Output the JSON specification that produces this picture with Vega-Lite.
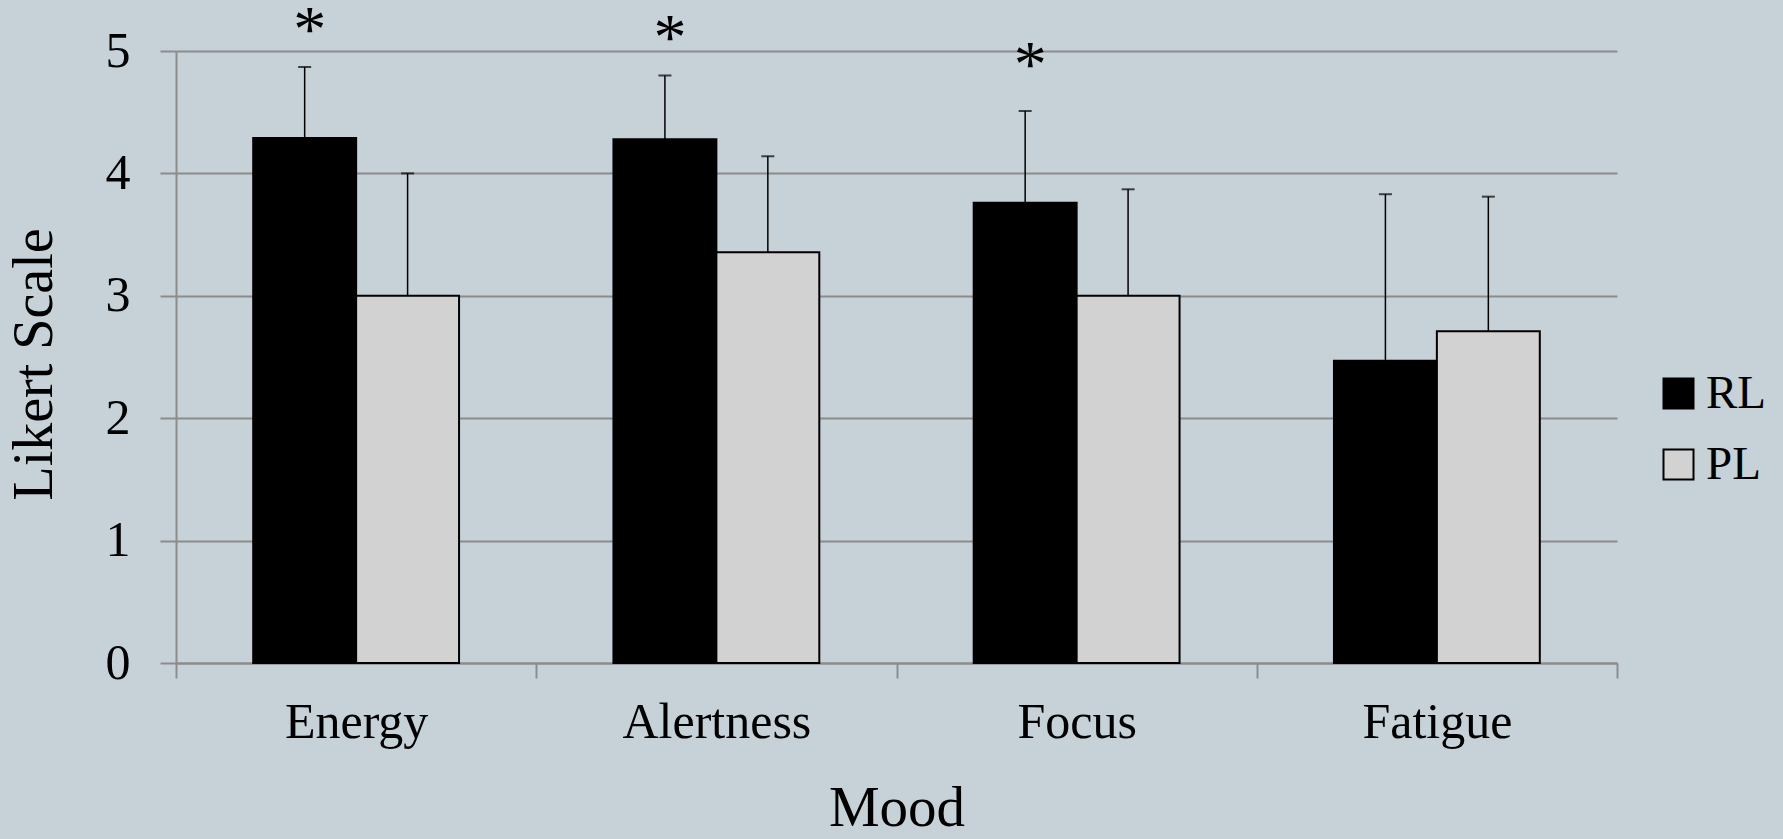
{
  "$schema": "https://vega.github.io/schema/vega-lite/v6.json",
  "width": 1441,
  "height": 612,
  "autosize": "none",
  "padding": {"left": 176, "top": 51, "right": 166, "bottom": 176},
  "background": "#c6d1d8",
  "config": {"view": {"stroke": null}, "font": "Liberation Serif"},
  "datasets": {
    "bars": [
      {"mood": "Energy", "group": "RL", "mean": 4.29, "err": 4.87},
      {"mood": "Energy", "group": "PL", "mean": 3.0, "err": 4.0},
      {"mood": "Alertness", "group": "RL", "mean": 4.28, "err": 4.8},
      {"mood": "Alertness", "group": "PL", "mean": 3.355, "err": 4.14},
      {"mood": "Focus", "group": "RL", "mean": 3.76, "err": 4.51},
      {"mood": "Focus", "group": "PL", "mean": 3.0, "err": 3.87},
      {"mood": "Fatigue", "group": "RL", "mean": 2.47, "err": 3.83},
      {"mood": "Fatigue", "group": "PL", "mean": 2.71, "err": 3.81}
    ],
    "stars": [
      {"mood": "Energy", "group": "RL", "star": 5.165},
      {"mood": "Alertness", "group": "RL", "star": 5.1},
      {"mood": "Focus", "group": "RL", "star": 4.88}
    ]
  },
  "encoding": {
    "x": {
      "field": "mood", "type": "nominal",
      "sort": ["Energy", "Alertness", "Focus", "Fatigue"],
      "scale": {"paddingInner": 0, "paddingOuter": 0},
      "title": "Mood",
      "axis": {
        "tickBand": "extent", "tickSize": 15, "tickColor": "#8c8c8c", "tickWidth": 2,
        "domainColor": "#8c8c8c", "domainWidth": 2,
        "labelAngle": 0, "labelFontSize": 50, "labelColor": "#000000", "labelBaseline": "middle", "labelPadding": 44, "labelLimit": 0,
        "titleFontSize": 57, "titleFontWeight": "normal", "titleColor": "#000000", "titleBaseline": "alphabetic", "titleY": 162
      }
    },
    "xOffset": {
      "field": "group", "type": "nominal", "sort": ["RL", "PL"],
      "scale": {"paddingInner": 0, "paddingOuter": 0.75}
    }
  },
  "layer": [
    {
      "data": {"name": "bars"},
      "mark": {"type": "bar", "stroke": "#000000", "strokeWidth": 2},
      "encoding": {
        "y": {
          "field": "mean", "type": "quantitative",
          "scale": {"domain": [0, 5]},
          "title": "Likert Scale",
          "axis": {
            "values": [0, 1, 2, 3, 4, 5], "format": "d",
            "grid": true, "gridColor": "#8c8c8c", "gridWidth": 2,
            "domainColor": "#8c8c8c", "domainWidth": 2,
            "tickColor": "#8c8c8c", "tickWidth": 2, "tickSize": 16,
            "labelFontSize": 50, "labelColor": "#000000", "labelPadding": 30,
            "titleFontSize": 56, "titleFontWeight": "normal", "titleColor": "#000000",
            "titleX": -142, "titleY": 313, "titleAngle": -90, "titleAlign": "center", "titleBaseline": "middle"
          }
        },
        "color": {
          "field": "group", "type": "nominal",
          "scale": {"domain": ["RL", "PL"], "range": ["#000000", "#d2d2d2"]},
          "legend": {
            "orient": "none", "legendX": 1479, "legendY": 319, "title": null,
            "symbolType": "square", "symbolSize": 900, "symbolStrokeColor": "#000000", "symbolStrokeWidth": 2,
            "labelFontSize": 47, "labelColor": "#000000", "labelOffset": 4, "rowPadding": 23
          }
        }
      }
    },
    {
      "data": {"name": "bars"},
      "mark": {"type": "rule", "color": "#000000", "strokeWidth": 1.5},
      "encoding": {
        "y": {"field": "mean", "type": "quantitative"},
        "y2": {"field": "err"}
      }
    },
    {
      "data": {"name": "bars"},
      "mark": {"type": "tick", "color": "#000000", "size": 13, "thickness": 2, "orient": "horizontal"},
      "encoding": {
        "y": {"field": "err", "type": "quantitative"}
      }
    },
    {
      "data": {"name": "stars"},
      "mark": {"type": "text", "text": "*", "fontSize": 66, "baseline": "middle", "dx": 5, "color": "#000000"},
      "encoding": {
        "y": {"field": "star", "type": "quantitative"}
      }
    }
  ]
}
